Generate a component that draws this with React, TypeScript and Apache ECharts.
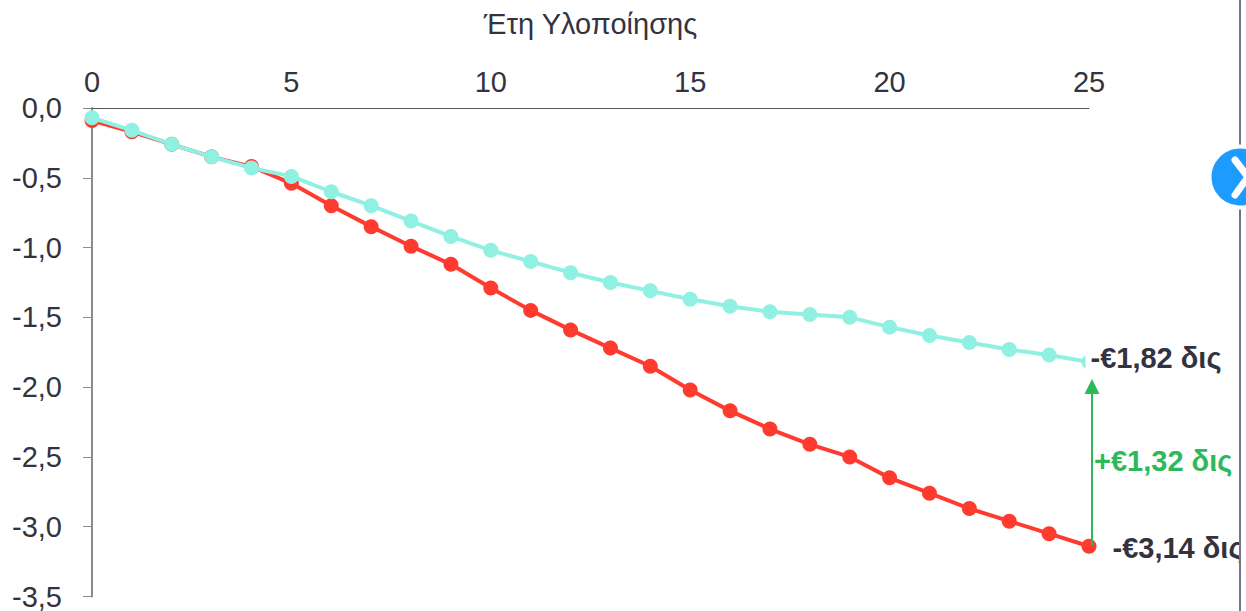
import React, { useEffect, useRef } from "react";
import * as echarts from "echarts";

const years = Array.from({ length: 26 }, (_, i) => i);
const redValues = [-0.09, -0.17, -0.26, -0.35, -0.42, -0.54, -0.7, -0.85, -0.99, -1.12, -1.29, -1.45, -1.59, -1.72, -1.85, -2.02, -2.17, -2.3, -2.41, -2.5, -2.65, -2.76, -2.87, -2.96, -3.05, -3.14];
const tealValues = [-0.07, -0.16, -0.26, -0.35, -0.43, -0.49, -0.6, -0.7, -0.81, -0.92, -1.02, -1.1, -1.18, -1.25, -1.31, -1.37, -1.42, -1.46, -1.48, -1.5, -1.57, -1.63, -1.68, -1.73, -1.77, -1.82];
const xTitle = "Έτη Υλοποίησης";
const redLabel = "-€3,14 δις";
const tealLabel = "-€1,82 δις";
const diffLabel = "+€1,32 δις";

const FONT = '"Liberation Sans", Arial, sans-serif';
const TEXT = "#33333f";
const RED = "#ff3b30";
const TEAL = "#90f0e2";
const GREEN = "#2db85a";
const SIZE = 29;

export default function App() {
  const ref = useRef<HTMLDivElement>(null);
  useEffect(() => {
    document.body.style.margin = "0";
    const chart = echarts.init(ref.current!, null, { renderer: "svg" });
    const pts = (vals: number[], text: string, labelExtra: any) =>
      vals.map((v, i) => {
        const p: any = { value: [years[i], v] };
        if (i === vals.length - 1) {
          p.label = { show: true, formatter: text, position: "right", fontFamily: FONT, fontSize: SIZE, fontWeight: "bold", color: TEXT, ...labelExtra };
        }
        return p;
      });
    chart.setOption({
      animation: false,
      backgroundColor: "#ffffff",
      grid: { left: 92, right: 157, top: 108, bottom: 12 },
      xAxis: {
        type: "value", position: "top", min: 0, max: 25, interval: 5,
        name: xTitle, nameLocation: "middle", nameGap: 70,
        nameTextStyle: { fontFamily: FONT, fontSize: SIZE, color: TEXT },
        axisLine: { show: true, onZero: false, lineStyle: { color: "#55555f", width: 1 } },
        axisTick: { show: false },
        splitLine: { show: false },
        axisLabel: { fontFamily: FONT, fontSize: SIZE, color: TEXT, margin: 12, showMinLabel: true, showMaxLabel: true },
      },
      yAxis: {
        type: "value", min: -3.5, max: 0, interval: 0.5,
        axisLine: { show: true, onZero: false, lineStyle: { color: "#8a8a92", width: 2 } },
        axisTick: { show: true, length: 9, lineStyle: { color: "#8a8a92", width: 1 } },
        splitLine: { show: false },
        axisLabel: { fontFamily: FONT, fontSize: SIZE, color: TEXT, margin: 30, padding: [5, 0, 0, 0], showMinLabel: true, showMaxLabel: true, formatter: (v: number) => v.toFixed(1).replace(".", ",") },
      },
      series: [
        {
          type: "line", data: pts(redValues, redLabel, { distance: 0, offset: [16, 2] }), clip: false, symbol: "circle", symbolSize: 15, showSymbol: true, z: 2,
          lineStyle: { color: RED, width: 4 }, itemStyle: { color: RED },
        },
        {
          type: "line", data: pts(tealValues, tealLabel, { distance: 0, offset: [-11, -4], backgroundColor: "#ffffff", padding: [4, 0, 4, 5] }), clip: false, symbol: "circle", symbolSize: 15, showSymbol: true, z: 3,
          lineStyle: { color: TEAL, width: 4 }, itemStyle: { color: TEAL },
        },
      ],
      graphic: [
        { type: "line", z: 10, shape: { x1: 1092, y1: 545, x2: 1092, y2: 392 }, style: { stroke: GREEN, lineWidth: 2 } },
        { type: "polygon", z: 10, shape: { points: [[1092, 379], [1084.5, 394], [1099.5, 394]] }, style: { fill: GREEN } },
        { type: "text", z: 10, x: 1094, y: 461, style: { text: diffLabel, font: `bold ${SIZE}px ${FONT}`, fill: GREEN, textVerticalAlign: "middle" } },
        { type: "rect", z: 20, shape: { x: 1240, y: 0, width: 6, height: 611 }, style: { fill: "#ffffff" } },
        { type: "line", z: 21, shape: { x1: 1240, y1: 0, x2: 1240, y2: 611 }, style: { stroke: "#75738a", lineWidth: 2 } },
        { type: "circle", z: 22, shape: { cx: 1240, cy: 177, r: 30.5 }, style: { fill: "#1e9bff", stroke: "#ffffff", lineWidth: 4 } },
        { type: "polyline", z: 23, shape: { points: [[1235, 160], [1248, 177], [1235, 195]] }, style: { stroke: "#ffffff", lineWidth: 7, lineCap: "round", fill: "none" } },
      ],
    });
    return () => chart.dispose();
  }, []);
  return <div ref={ref} style={{ position: "absolute", left: 0, top: 0, width: 1246, height: 611, overflow: "hidden" }} />;
}
